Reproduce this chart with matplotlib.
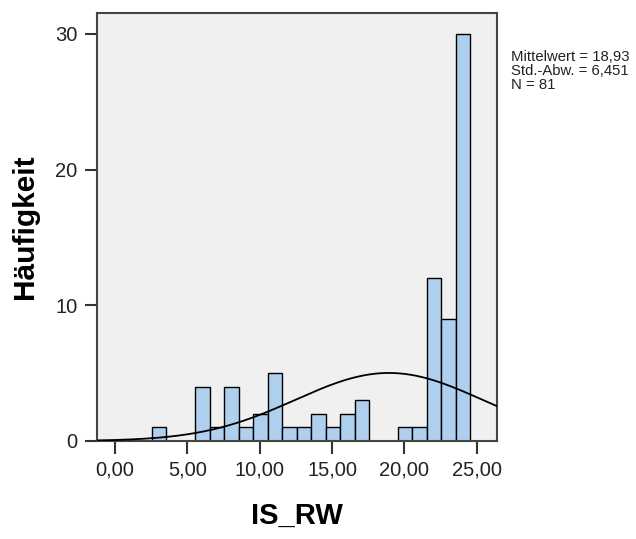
import matplotlib
matplotlib.use('Agg')
import matplotlib.pyplot as plt
import numpy as np

#%% Data
bin_centers = [3, 4, 5, 6, 7, 8, 9, 10, 11, 12, 13, 14, 15, 16, 17, 18, 19, 20, 21, 22, 23, 24]
counts = [1, 0, 0, 4, 1, 4, 1, 2, 5, 1, 1, 2, 1, 2, 3, 0, 0, 1, 1, 12, 9, 30]
mean, sd, n = 18.93, 6.451, 81
x_ticks = [0, 5, 10, 15, 20, 25]
x_ticklabels = ['0,00', '5,00', '10,00', '15,00', '20,00', '25,00']
y_ticks = [0, 10, 20, 30]

plt.rcParams['font.family'] = ['Liberation Sans', 'DejaVu Sans']

#%% Plot
fig = plt.figure(figsize=(6.36, 5.39), dpi=100)
ax = fig.add_axes([0.1525, 0.182, 0.629, 0.794])
ax.set_facecolor('#f0f0f0')

centers = np.array(bin_centers) + 0.05
ax.bar(centers, counts, width=1.0, color='#aed0ee', edgecolor='black', linewidth=1.0, zorder=2)

# normal curve scaled to counts (bin width 1)
xs = np.linspace(-1.25, 26.4, 400)
ys = n * 1.0 / (sd * np.sqrt(2 * np.pi)) * np.exp(-0.5 * ((xs - mean) / sd) ** 2)
ax.plot(xs, ys, color='black', linewidth=1.3, zorder=3)

ax.set_xlim(-1.25, 26.4)
ax.set_ylim(0, 31.55)
ax.set_xticks(x_ticks)
ax.set_xticklabels(x_ticklabels)
ax.set_yticks(y_ticks)
ax.tick_params(direction='out', length=9, width=1.5, pad=5, colors='#333333', labelsize=14.5, labelcolor='#222222')
for s in ax.spines.values():
    s.set_color('#444444')
    s.set_linewidth(1.5)

ax.set_xlabel('IS_RW', fontsize=21, fontweight='bold', labelpad=16)
ax.set_ylabel('Häufigkeit', fontsize=21.5, fontweight='bold', labelpad=12)

fig.text(0.804, 0.908, 'Mittelwert = 18,93\nStd.-Abw. = 6,451\nN = 81',
         fontsize=10.7, va='top', ha='left', linespacing=1.0, color='#222222')

plt.savefig('out.png', dpi=100)
